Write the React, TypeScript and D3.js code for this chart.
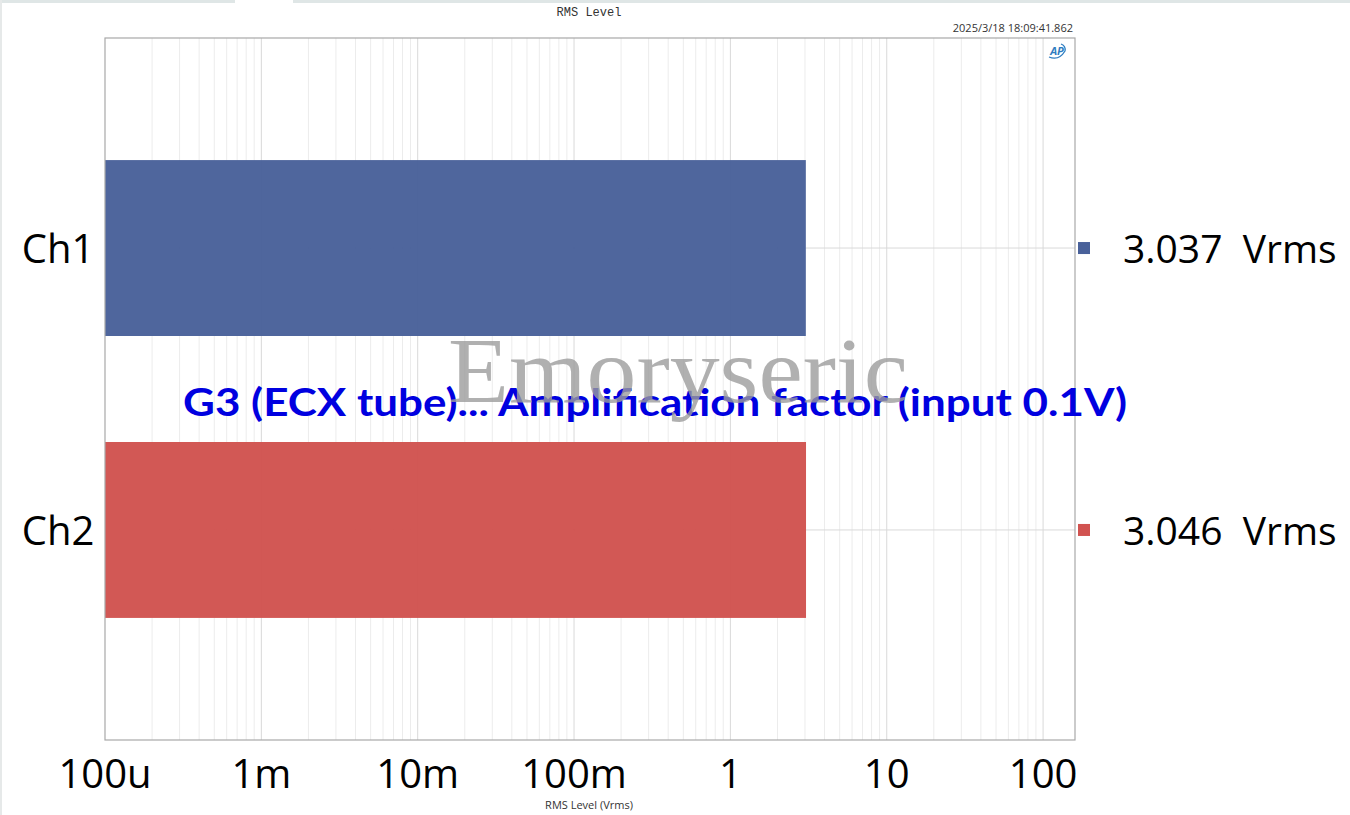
import { useEffect, useRef } from "react"
import * as d3 from "d3"

// channel readings (Vrms)
const channels = ["Ch1", "Ch2"]
const levels = [3.037, 3.046]
const barColors = ["#49619a", "#d15350"]
const legendLabels = ["3.037  Vrms", "3.046  Vrms"]

// log axis ticks
const tickValues = [1e-4, 1e-3, 1e-2, 1e-1, 1, 10, 100]
const tickLabels = ["100u", "1m", "10m", "100m", "1", "10", "100"]

const chartTitle = "RMS Level"
const axisTitle = "RMS Level (Vrms)"
const timestamp = "2025/3/18 18:09:41.862"
const overlayTitle = "G3 (ECX tube)... Amplification factor (input 0.1V)"
const watermark = "Emoryseric"

const W = 1350
const H = 815
const margin = { top: 38, right: 275, bottom: 75, left: 105 }
const sans = "'Open Sans', 'Noto Sans', sans-serif"

export default function App() {
  const svgRef = useRef<SVGSVGElement>(null)

  useEffect(() => {
    if (!svgRef.current) return
    const svg = d3.select(svgRef.current)
    svg.selectAll("*").remove()

    const x0 = margin.left
    const x1 = W - margin.right
    const y0 = margin.top
    const y1 = H - margin.bottom

    const x = d3.scaleLog().domain([1e-4, 160]).range([x0, x1])
    const y = d3
      .scaleBand()
      .domain(channels)
      .range([y0, y1])
      .paddingInner(0.376)
      .paddingOuter(0.433)

    // window chrome strip at the very top
    svg.append("rect").attr("x", 0).attr("y", 0).attr("width", 235).attr("height", 3).attr("fill", "#dfe6e6")
    svg.append("rect").attr("x", 293).attr("y", 0).attr("width", W - 293).attr("height", 3).attr("fill", "#dfe6e6")
    svg.append("rect").attr("x", 0).attr("y", 0).attr("width", 2).attr("height", H).attr("fill", "#e6e9e9")

    svg.append("rect").attr("x", x0).attr("y", y0).attr("width", x1 - x0).attr("height", y1 - y0).attr("fill", "#fff")

    // vertical grid: minor 2..9, major decades
    const grid: { v: number; major: boolean }[] = []
    for (let e = -4; e <= 2; e++) {
      for (let k = 1; k <= 9; k++) {
        const v = k * Math.pow(10, e)
        if (v > 1e-4 && v < 160) grid.push({ v, major: k === 1 })
      }
    }
    svg
      .append("g")
      .selectAll("line")
      .data(grid)
      .enter()
      .append("line")
      .attr("x1", (d) => x(d.v))
      .attr("x2", (d) => x(d.v))
      .attr("y1", y0)
      .attr("y2", y1)
      .attr("stroke", (d) => (d.major ? "#d9d9d9" : "#ececec"))
      .attr("stroke-width", 1)

    // horizontal grid at channel centres
    svg
      .append("g")
      .selectAll("line")
      .data(channels)
      .enter()
      .append("line")
      .attr("x1", x0)
      .attr("x2", x1)
      .attr("y1", (d) => y(d)! + y.bandwidth() / 2)
      .attr("y2", (d) => y(d)! + y.bandwidth() / 2)
      .attr("stroke", "#d9d9d9")

    // bars
    svg
      .append("g")
      .selectAll("rect")
      .data(levels)
      .enter()
      .append("rect")
      .attr("x", x0)
      .attr("y", (_, i) => y(channels[i])!)
      .attr("width", (d) => x(d) - x0)
      .attr("height", y.bandwidth())
      .attr("fill", (_, i) => barColors[i])
      .attr("fill-opacity", 0.97)

    // frame
    svg
      .append("rect")
      .attr("x", x0)
      .attr("y", y0)
      .attr("width", x1 - x0)
      .attr("height", y1 - y0)
      .attr("fill", "none")
      .attr("stroke", "#a8a8a8")
      .attr("stroke-width", 1.2)

    // x tick labels
    svg
      .append("g")
      .selectAll("text")
      .data(tickValues)
      .enter()
      .append("text")
      .attr("x", (d) => x(d))
      .attr("y", y1 + 48)
      .attr("text-anchor", "middle")
      .attr("font-family", sans)
      .attr("font-size", 40)
      .attr("fill", "#000")
      .text((_, i) => tickLabels[i])

    // channel labels
    svg
      .append("g")
      .selectAll("text")
      .data(channels)
      .enter()
      .append("text")
      .attr("x", 58)
      .attr("y", (d) => y(d)! + y.bandwidth() / 2 + 15)
      .attr("text-anchor", "middle")
      .attr("font-family", sans)
      .attr("font-size", 40)
      .attr("fill", "#000")
      .text((d) => d)

    // legend with readings
    const legend = svg
      .append("g")
      .selectAll("g")
      .data(channels)
      .enter()
      .append("g")
      .attr("transform", (d) => `translate(${x1 + 3},${y(d)! + y.bandwidth() / 2})`)
    legend
      .append("rect")
      .attr("x", 0)
      .attr("y", -6)
      .attr("width", 12)
      .attr("height", 12)
      .attr("fill", (_, i) => barColors[i])
    legend
      .append("text")
      .attr("x", 45)
      .attr("y", 15)
      .attr("font-family", sans)
      .attr("font-size", 39)
      .attr("fill", "#000")
      .style("white-space", "pre")
      .text((_, i) => legendLabels[i])

    // titles
    svg
      .append("text")
      .attr("x", 589)
      .attr("y", 16)
      .attr("text-anchor", "middle")
      .attr("font-family", "'Liberation Mono', monospace")
      .attr("font-size", 12)
      .attr("fill", "#333")
      .text(chartTitle)
    svg
      .append("text")
      .attr("x", x1 - 2)
      .attr("y", 32)
      .attr("text-anchor", "end")
      .attr("font-family", sans)
      .attr("font-size", 11)
      .attr("fill", "#333")
      .text(timestamp)
    svg
      .append("text")
      .attr("x", 589)
      .attr("y", 809)
      .attr("text-anchor", "middle")
      .attr("font-family", sans)
      .attr("font-size", 11)
      .attr("fill", "#333")
      .text(axisTitle)

    // AP logo
    const logo = svg.append("g").attr("transform", `translate(${x1 - 18},${y0 + 13})`)
    logo
      .append("text")
      .attr("x", 0)
      .attr("y", 4)
      .attr("text-anchor", "middle")
      .attr("font-family", sans)
      .attr("font-weight", "bold")
      .attr("font-style", "italic")
      .attr("font-size", 11)
      .attr("fill", "#2f7cc0")
      .text("AP")
    logo
      .append("path")
      .attr("d", "M-8,6 Q2,10 8,0 Q9,-5 4,-7")
      .attr("fill", "none")
      .attr("stroke", "#2f7cc0")
      .attr("stroke-width", 1.3)

    // overlay annotation
    svg
      .append("text")
      .attr("x", 183)
      .attr("y", 416)
      .attr("font-family", "Lato, sans-serif")
      .attr("font-weight", "bold")
      .attr("font-size", 38)
      .attr("fill", "#0000e0")
      .attr("textLength", 944)
      .attr("lengthAdjust", "spacingAndGlyphs")
      .text(overlayTitle)

    // watermark
    svg
      .append("text")
      .attr("x", 448)
      .attr("y", 402)
      .attr("font-family", "'Liberation Serif', serif")
      .attr("font-size", 94)
      .attr("fill", "#9c9c9c")
      .attr("fill-opacity", 0.8)
      .attr("textLength", 460)
      .attr("lengthAdjust", "spacingAndGlyphs")
      .text(watermark)
  }, [])

  return (
    <svg
      ref={svgRef}
      width={W}
      height={H}
      style={{ position: "absolute", left: 0, top: 0, background: "#fff" }}
    />
  )
}
